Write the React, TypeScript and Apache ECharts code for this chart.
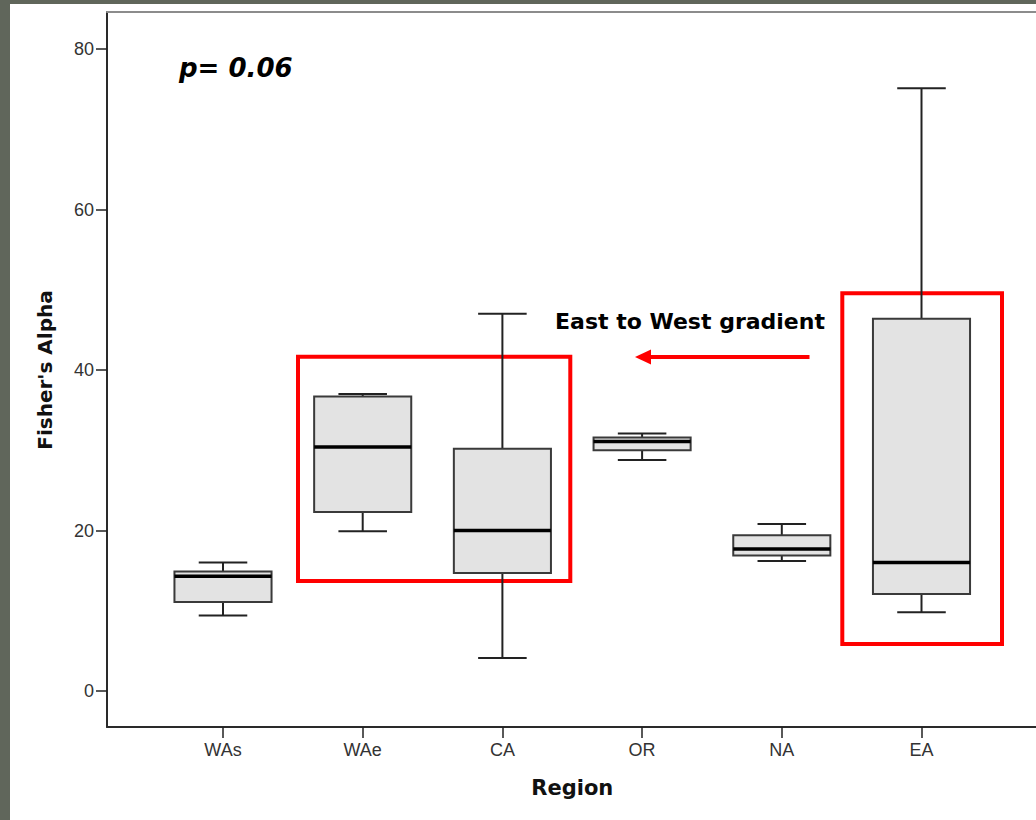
import React, { useEffect, useRef } from "react";
import * as echarts from "echarts";

// ---- data ----
const categories = ["WAs", "WAe", "CA", "OR", "NA", "EA"];
const whiskerLow = [9.4, 19.9, 4.1, 28.8, 16.2, 9.8];
const quartile1 = [11.1, 22.3, 14.7, 30.0, 16.9, 12.1];
const medians = [14.3, 30.4, 20.0, 31.1, 17.7, 16.0];
const quartile3 = [14.9, 36.7, 30.2, 31.6, 19.4, 46.4];
const whiskerHigh = [16.0, 37.0, 47.0, 32.1, 20.8, 75.1];
const yTicks = [0, 20, 40, 60, 80];

const titleP = "p= 0.06";
const gradientLabel = "East to West gradient";
const xName = "Region";
const yName = "Fisher's Alpha";

const BOLD_FONT = "DejaVu Sans";
const TICK_FONT = "Liberation Sans";

// layout
const FRAME_TOP = 12;
const FRAME_BOTTOM = 727;
const TICK_TOP = 49; // pixel of the top tick
const TICK_BOTTOM = 691; // pixel of the bottom tick

export default function App() {
  const ref = useRef<HTMLDivElement>(null);

  useEffect(() => {
    document.body.style.margin = "0";
    if (!ref.current) return;
    const chart = echarts.init(ref.current, null, { renderer: "svg" });

    const boxData = categories.map((_, i) => [
      i,
      whiskerLow[i],
      quartile1[i],
      medians[i],
      quartile3[i],
      whiskerHigh[i],
    ]);

    const yMinTick = yTicks[0];
    const yMaxTick = yTicks[yTicks.length - 1];
    const pxPerUnit = (TICK_BOTTOM - TICK_TOP) / (yMaxTick - yMinTick);
    const frameMin = yMinTick - (FRAME_BOTTOM - TICK_BOTTOM) / pxPerUnit;
    const frameMax = yMaxTick + (TICK_TOP - FRAME_TOP) / pxPerUnit;

    const hiddenValue = (gridIndex: number, extra: any = {}) => ({
      gridIndex,
      type: "value",
      min: 0,
      max: 1,
      axisLine: { show: false, onZero: false },
      axisTick: { show: false },
      axisLabel: { show: false },
      splitLine: { show: false },
      ...extra,
    });

    const option: any = {
      animation: false,
      backgroundColor: "#ffffff",
      grid: [
        { left: 107, top: FRAME_TOP, width: 980, height: FRAME_BOTTOM - FRAME_TOP },
        { left: 153.15, top: FRAME_TOP, width: 838.2, height: FRAME_BOTTOM - FRAME_TOP },
        { left: 107, top: TICK_TOP, width: 10, height: TICK_BOTTOM - TICK_TOP },
      ],
      xAxis: [
        hiddenValue(0, {
          position: "bottom",
          axisLine: { show: true, onZero: false, lineStyle: { color: "#2a2a2a", width: 2 } },
        }),
        hiddenValue(0, {
          position: "top",
          axisLine: { show: true, onZero: false, lineStyle: { color: "#8c8c8c", width: 2 } },
        }),
        {
          gridIndex: 1,
          type: "category",
          data: categories,
          position: "bottom",
          axisLine: { show: false, onZero: false },
          axisTick: {
            show: true,
            alignWithLabel: true,
            length: 11,
            lineStyle: { color: "#222222", width: 1.5 },
          },
          axisLabel: {
            fontSize: 18,
            color: "#333333",
            margin: 14,
            fontFamily: TICK_FONT,
          },
          splitLine: { show: false },
          name: xName,
          nameLocation: "middle",
          nameGap: 50,
          nameTextStyle: {
            fontFamily: BOLD_FONT,
            fontWeight: "bold",
            fontSize: 21,
            color: "#111111",
          },
        },
        hiddenValue(2),
      ],
      yAxis: [
        hiddenValue(0, {
          axisLine: { show: true, onZero: false, lineStyle: { color: "#2a2a2a", width: 2 } },
        }),
        hiddenValue(1, { min: frameMin, max: frameMax }),
        {
          gridIndex: 2,
          type: "value",
          min: yMinTick,
          max: yMaxTick,
          interval: yTicks[1] - yTicks[0],
          axisLine: { show: false, onZero: false },
          axisTick: {
            show: true,
            length: 11,
            lineStyle: { color: "#222222", width: 1.5 },
          },
          axisLabel: {
            fontSize: 18,
            color: "#333333",
            margin: 13,
            fontFamily: TICK_FONT,
          },
          splitLine: { show: false },
          name: yName,
          nameLocation: "middle",
          nameRotate: 90,
          nameGap: 52,
          nameTextStyle: {
            fontFamily: BOLD_FONT,
            fontWeight: "bold",
            fontSize: 20,
            color: "#111111",
          },
        },
      ],
      series: [
        {
          type: "custom",
          xAxisIndex: 2,
          yAxisIndex: 1,
          data: boxData,
          encode: { x: 0, y: [1, 2, 3, 4, 5] },
          clip: false,
          renderItem: (params: any, api: any) => {
            const idx = api.value(0);
            const pLo = api.coord([idx, api.value(1)]);
            const pQ1 = api.coord([idx, api.value(2)]);
            const pMed = api.coord([idx, api.value(3)]);
            const pQ3 = api.coord([idx, api.value(4)]);
            const pHi = api.coord([idx, api.value(5)]);
            const band = api.size([1, 0])[0];
            const bw = band * 0.695;
            const cw = bw * 0.5;
            const cx = pLo[0];
            const wStyle = { stroke: "#222222", lineWidth: 2 };
            return {
              type: "group",
              children: [
                {
                  type: "line",
                  shape: { x1: cx, y1: pHi[1], x2: cx, y2: pQ3[1] },
                  style: wStyle,
                },
                {
                  type: "line",
                  shape: { x1: cx, y1: pQ1[1], x2: cx, y2: pLo[1] },
                  style: wStyle,
                },
                {
                  type: "line",
                  shape: { x1: cx - cw / 2, y1: pHi[1], x2: cx + cw / 2, y2: pHi[1] },
                  style: wStyle,
                },
                {
                  type: "line",
                  shape: { x1: cx - cw / 2, y1: pLo[1], x2: cx + cw / 2, y2: pLo[1] },
                  style: wStyle,
                },
                {
                  type: "rect",
                  shape: {
                    x: cx - bw / 2,
                    y: pQ3[1],
                    width: bw,
                    height: pQ1[1] - pQ3[1],
                  },
                  style: { fill: "#e3e3e3", stroke: "#3a3a3a", lineWidth: 2 },
                },
                {
                  type: "line",
                  shape: { x1: cx - bw / 2, y1: pMed[1], x2: cx + bw / 2, y2: pMed[1] },
                  style: { stroke: "#000000", lineWidth: 3.5 },
                },
              ],
            };
          },
        },
      ],
      graphic: [
        {
          type: "rect",
          silent: true,
          shape: { x: 0, y: 0, width: 10, height: 820 },
          style: { fill: "#60665b" },
        },
        {
          type: "rect",
          silent: true,
          shape: { x: 0, y: 0, width: 1036, height: 4 },
          style: { fill: "#60665b" },
        },
        {
          type: "text",
          x: 179,
          y: 68,
          style: {
            text: titleP,
            fontFamily: BOLD_FONT,
            fontWeight: "bold",
            fontStyle: "italic",
            fontSize: 26,
            fill: "#000000",
            align: "left",
            verticalAlign: "middle",
          },
        },
        {
          type: "text",
          x: 690,
          y: 321,
          style: {
            text: gradientLabel,
            fontFamily: BOLD_FONT,
            fontWeight: "bold",
            fontSize: 22,
            fill: "#000000",
            align: "center",
            verticalAlign: "middle",
          },
        },
        {
          type: "rect",
          shape: { x: 298, y: 356.7, width: 272.3, height: 224.3 },
          style: { fill: "none", stroke: "#ff0000", lineWidth: 4 },
        },
        {
          type: "rect",
          shape: { x: 842.3, y: 293.3, width: 159.7, height: 350.7 },
          style: { fill: "none", stroke: "#ff0000", lineWidth: 4 },
        },
        {
          type: "line",
          shape: { x1: 647, y1: 357, x2: 809.5, y2: 357 },
          style: { stroke: "#ff0000", lineWidth: 4 },
        },
        {
          type: "polygon",
          shape: {
            points: [
              [635, 357],
              [651, 349.5],
              [651, 364.5],
            ],
          },
          style: { fill: "#ff0000" },
        },
      ],
    };

    chart.setOption(option);
    return () => {
      chart.dispose();
    };
  }, []);

  return <div ref={ref} style={{ width: 1036, height: 820 }} />;
}
